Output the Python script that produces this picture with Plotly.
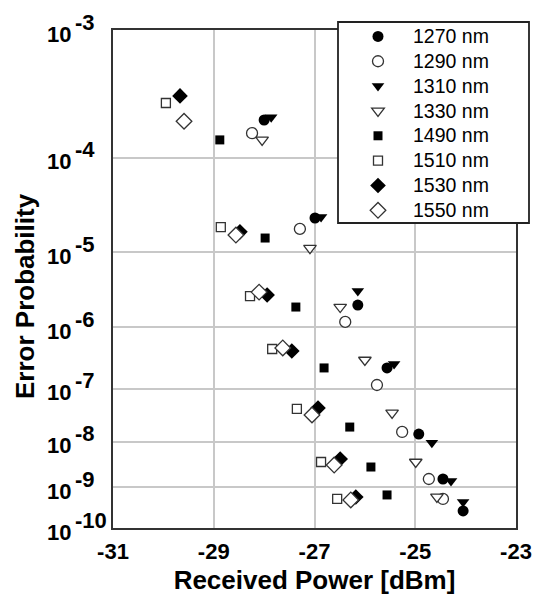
import math
import plotly.graph_objects as go

# Received optical power [dBm] and measured error probability per wavelength
wavelengths = ["1270 nm", "1290 nm", "1310 nm", "1330 nm",
               "1490 nm", "1510 nm", "1530 nm", "1550 nm"]

power_1270 = [-28.00, -26.99, -26.14, -25.56, -24.93, -24.45, -24.05]
ber_1270 = [2.15e-4, 2.47e-5, 2.07e-6, 2.28e-7, 1.42e-8, 1.56e-9, 2.72e-10]

power_1290 = [-28.24, -27.29, -26.39, -25.76, -25.26, -24.73, -24.45]
ber_1290 = [1.66e-4, 1.87e-5, 1.19e-6, 1.17e-7, 1.56e-8, 1.56e-9, 5.33e-10]

power_1310 = [-27.86, -26.87, -26.14, -25.42, -24.67, -24.29, -24.05]
ber_1310 = [2.27e-4, 2.54e-5, 3.21e-6, 2.65e-7, 9.4e-9, 1.41e-9, 4.52e-10]

power_1330 = [-28.04, -27.09, -26.49, -26.00, -25.46, -24.99, -24.57]
ber_1330 = [1.45e-4, 1.12e-5, 1.94e-6, 3.08e-7, 3.64e-8, 3.72e-9, 5.96e-10]

power_1490 = [-28.88, -27.98, -27.37, -26.81, -26.30, -25.88, -25.56]
ber_1490 = [1.45e-4, 1.47e-5, 1.94e-6, 2.28e-7, 1.95e-8, 2.89e-9, 6.65e-10]

power_1510 = [-29.95, -28.86, -28.28, -27.84, -27.35, -26.87, -26.55]
ber_1510 = [2.96e-4, 1.96e-5, 2.75e-6, 4.62e-7, 4.33e-8, 3.72e-9, 5.33e-10]

power_1530 = [-29.67, -28.48, -27.94, -27.45, -26.93, -26.49, -26.18]
ber_1530 = [3.37e-4, 1.73e-5, 2.84e-6, 4.30e-7, 4.52e-8, 4.31e-9, 5.96e-10]

power_1550 = [-29.59, -28.56, -28.10, -27.63, -27.05, -26.61, -26.28]
ber_1550 = [2.10e-4, 1.59e-5, 3.11e-6, 4.80e-7, 3.33e-8, 3.19e-9, 5.05e-10]

x_ticks = [-31, -29, -27, -25, -23]
ber_decades = [3, 4, 5, 6, 7, 8, 9, 10]


def q_factor(ber):
    """Invert BER = 0.5*erfc(Q/sqrt(2)) by bisection."""
    lo, hi = 0.0, 40.0
    for _ in range(200):
        mid = 0.5 * (lo + hi)
        if 0.5 * math.erfc(mid / math.sqrt(2.0)) > ber:
            lo = mid
        else:
            hi = mid
    return 0.5 * (lo + hi)


def ber_scale(ber):
    """Vertical coordinate: log10 of the Q-factor."""
    return math.log10(q_factor(ber))


series = [
    (power_1270, ber_1270, "circle", "black", "black", 0),
    (power_1290, ber_1290, "circle", "white", "#333333", 1.3),
    (power_1310, ber_1310, "triangle-down", "black", "black", 0),
    (power_1330, ber_1330, "triangle-down", "white", "#333333", 1.3),
    (power_1490, ber_1490, "square", "black", "black", 0),
    (power_1510, ber_1510, "square", "white", "#333333", 1.3),
    (power_1530, ber_1530, "diamond", "black", "black", 0),
    (power_1550, ber_1550, "diamond", "white", "#333333", 1.3),
]
sizes = {"circle": 11, "triangle-down": 11, "square": 9, "diamond": 12}

FONT = "Arial, Liberation Sans, sans-serif"
LABEL = dict(family=FONT, size=22, color="black", weight="bold")

fig = go.Figure()
for name, (px, ber, sym, fill, edge, lw) in zip(wavelengths, series):
    fig.add_trace(go.Scatter(
        x=px,
        y=[ber_scale(b) for b in ber],
        mode="markers",
        name=f"<span style='font-size:19.5px'>{name}</span>",
        marker=dict(symbol=sym, size=sizes[sym], color=fill,
                    line=dict(color=edge, width=lw)),
    ))

y_tickvals = [ber_scale(10.0 ** -n) for n in ber_decades]

# Plot-area geometry in pixels
W, H = 534, 595
ML, MR, MT, MB = 113, 18, 30, 67
pw, ph = W - ML - MR, H - MT - MB


def px_x(x):
    return (x - ML) / pw


def px_y(y):
    return (H - MB - y) / ph


# Decade labels "10" with a full-size exponent, placed on the BER scale
annotations = []
for n, yv in zip(ber_decades, y_tickvals):
    annotations.append(dict(
        x=px_x(73), xref="paper", y=yv, yref="y", text="10",
        xanchor="right", yanchor="middle", yshift=-4, showarrow=False,
        font=LABEL,
    ))
    annotations.append(dict(
        x=px_x(73), xref="paper", y=yv, yref="y", text=f"-{n}",
        xanchor="left", yanchor="middle", yshift=8, showarrow=False,
        font=LABEL,
    ))
annotations.append(dict(
    x=px_x(25), xref="paper", y=px_y(296), yref="paper",
    text="Error Probability", textangle=-90,
    xanchor="center", yanchor="middle", showarrow=False,
    font=dict(family=FONT, size=26, color="black", weight="bold"),
))

fig.update_layout(
    template="none",
    width=W, height=H,
    margin=dict(l=ML, r=MR, t=MT, b=MB, autoexpand=False),
    paper_bgcolor="white", plot_bgcolor="white",
    font=dict(family=FONT, color="black"),
    showlegend=True,
    legend=dict(
        x=px_x(343), y=px_y(19), xanchor="left", yanchor="top",
        bgcolor="rgba(0,0,0,0)", borderwidth=0,
        font=dict(family=FONT, size=16.8, color="black"),
        itemwidth=60, tracegroupgap=0,
    ),
    shapes=[dict(
        type="rect", xref="paper", yref="paper",
        x0=px_x(338), x1=px_x(529), y0=px_y(223), y1=px_y(22),
        line=dict(color="#222222", width=1.8), fillcolor="white", layer="above",
    )],
    annotations=annotations,
    xaxis=dict(
        range=[-31, -23], tickvals=x_ticks, ticktext=[str(v) for v in x_ticks],
        automargin=False,
        showgrid=True, gridcolor="#c8c8c8", gridwidth=1.5,
        showline=True, linecolor="#333333", linewidth=1.5, mirror=True,
        ticks="", zeroline=False, ticklabelstandoff=3,
        tickfont=LABEL,
        title=dict(text="Received Power [dBm]", standoff=32,
                   font=dict(family=FONT, size=26, color="black", weight="bold")),
    ),
    yaxis=dict(
        range=[ber_scale(1e-10), ber_scale(1e-3)],
        tickvals=y_tickvals, showticklabels=False, automargin=False,
        showgrid=True, gridcolor="#c8c8c8", gridwidth=1.5,
        showline=True, linecolor="#333333", linewidth=1.5, mirror=True,
        ticks="", zeroline=False,
    ),
)

fig.write_html("out.html")
